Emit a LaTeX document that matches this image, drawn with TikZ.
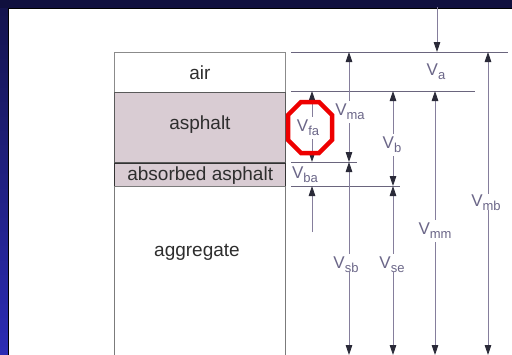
\documentclass[tikz,border=0pt]{standalone}
\usepackage{fontspec}
\setmainfont{Liberation Sans}
\usetikzlibrary{arrows.meta}
\definecolor{navy}{HTML}{10103E}
\definecolor{stripTop}{HTML}{14144E}
\definecolor{stripBot}{HTML}{2C2CB4}
\definecolor{asph}{HTML}{D9CCD3}
\definecolor{boxc}{HTML}{5A5A5A}
\definecolor{darkc}{HTML}{333333}
\definecolor{textc}{HTML}{2E2E2E}
\definecolor{labc}{HTML}{6B6688}
\definecolor{linec}{HTML}{857E9C}
\definecolor{headc}{HTML}{2A2A38}
\definecolor{octred}{HTML}{EE0000}
\newcommand\vlab[1]{V\raisebox{-0.45ex}{\fontsize{13}{13}\selectfont #1}}
\begin{document}
\begin{tikzpicture}[x=1pt,y=-1pt,
  layer/.style={draw=boxc, line width=0.8pt, minimum width=171pt, inner sep=0pt,
    anchor=north west, font=\fontsize{19}{19}\selectfont, text=textc},
  lbl/.style={font=\fontsize{19}{19}\selectfont, text=textc, inner sep=0pt},
  vl/.style={text=labc, font=\fontsize{17}{17}\selectfont, inner sep=3pt},
  hl/.style={draw=linec!80!black, line width=0.8pt},
  arr/.style={draw=linec, line width=0.8pt, -{Triangle[length=10pt,width=6.5pt,color=headc]}}]
\useasboundingbox (0,0) rectangle (512,354);
\clip (0,0) rectangle (512,354);
% frame
\fill[navy] (0,0) rectangle (512,354);
\shade[top color=stripTop, bottom color=stripBot] (0,8) rectangle (8,354);
\fill[white] (8,8) rectangle (512,354);
\draw[black, line width=1pt] (8,356) -- (8,8) -- (513,8);
% layers
\node[layer, minimum height=40pt, draw=boxc!70] (air) at (114,52) {\raisebox{-1pt}{air}};
\node[layer, minimum height=70pt, fill=asph] (asp) at (114,92) {\raisebox{10pt}{asphalt}};
\node[layer, minimum height=23pt, fill=asph, draw=darkc, line width=1.4pt] (abs) at (114,163) {\raisebox{-1pt}{absorbed asphalt}};
\node[layer, minimum height=200pt, draw=boxc!80] (agg) at (114,186) {};
\node[lbl] (aggt) at (197,252) {aggregate};
% horizontal reference lines
\coordinate (h1w) at (291,52);  \coordinate (h1e) at (508,52);
\coordinate (h2w) at (291,91);  \coordinate (h2e) at (475,91);
\coordinate (h3w) at (291,162); \coordinate (h3e) at (357,162);
\coordinate (h4w) at (291,186); \coordinate (h4e) at (400,186);
\draw[hl] (h1w) -- (h1e);
\draw[hl] (h2w) -- (h2e);
\draw[hl] (h3w) -- (h3e);
\draw[hl] (h4w) -- (h4e);
% labels
\node[vl] (va)  at (436,72)  {\vlab{a}};
\node[vl] (vma) at (350,112) {\vlab{ma}};
\node[vl] (vfa) at (308,128) {\vlab{fa}};
\node[vl] (vb)  at (392,145) {\vlab{b}};
\node[vl] (vba) at (305,175) {\vlab{ba}};
\node[vl] (vmb) at (486,203) {\vlab{mb}};
\node[vl] (vmm) at (435,231) {\vlab{mm}};
\node[vl] (vsb) at (346,265) {\vlab{sb}};
\node[vl] (vse) at (392,265) {\vlab{se}};
% arrow end points
\coordinate (topin) at (437,7);
\coordinate (a1)  at (437,52);
\coordinate (ma1) at (349,52);
\coordinate (ma2) at (349,162);
\coordinate (fa1) at (312,91);
\coordinate (fa2) at (312,162);
\coordinate (b1)  at (393,91);
\coordinate (b2)  at (393,186);
\coordinate (ba0) at (312,232);
\coordinate (ba1) at (312,186);
\coordinate (mb1) at (488,52);
\coordinate (mb2) at (488,355);
\coordinate (mm1) at (435,91);
\coordinate (mm2) at (435,355);
\coordinate (sb1) at (349,162);
\coordinate (sb2) at (349,355);
\coordinate (se1) at (393,186);
\coordinate (se2) at (393,355);
% arrows
\draw[arr] (topin) -- (a1);
\draw[arr] (vma.north -| ma1) -- (ma1);
\draw[arr] (vma.south -| ma2) -- (ma2);
\draw[arr] (vfa.north -| fa1) -- (fa1);
\draw[arr] (vfa.south -| fa2) -- (fa2);
\draw[arr] (vb.north -| b1) -- (b1);
\draw[arr] (vb.south -| b2) -- (b2);
\draw[arr] (ba0) -- (ba1);
\draw[arr] ([yshift=-2pt]vmb.north -| mb1) -- (mb1);
\draw[arr] ([yshift=4pt]vmb.south -| mb2) -- (mb2);
\draw[arr] (vmm.north -| mm1) -- (mm1);
\draw[arr] (vmm.south -| mm2) -- (mm2);
\draw[arr] (vsb.north -| sb1) -- (sb1);
\draw[arr] ([yshift=4pt]vsb.south -| sb2) -- (sb2);
\draw[arr] (vse.north -| se1) -- (se1);
\draw[arr] ([yshift=4pt]vse.south -| se2) -- (se2);
% red octagon highlight
\draw[octred, line width=4.5pt, line join=miter]
  (301,102) -- (319,102) -- (332,115) -- (332,140) -- (319,153)
  -- (301,153) -- (288,140) -- (288,115) -- cycle;
\end{tikzpicture}
\end{document}
